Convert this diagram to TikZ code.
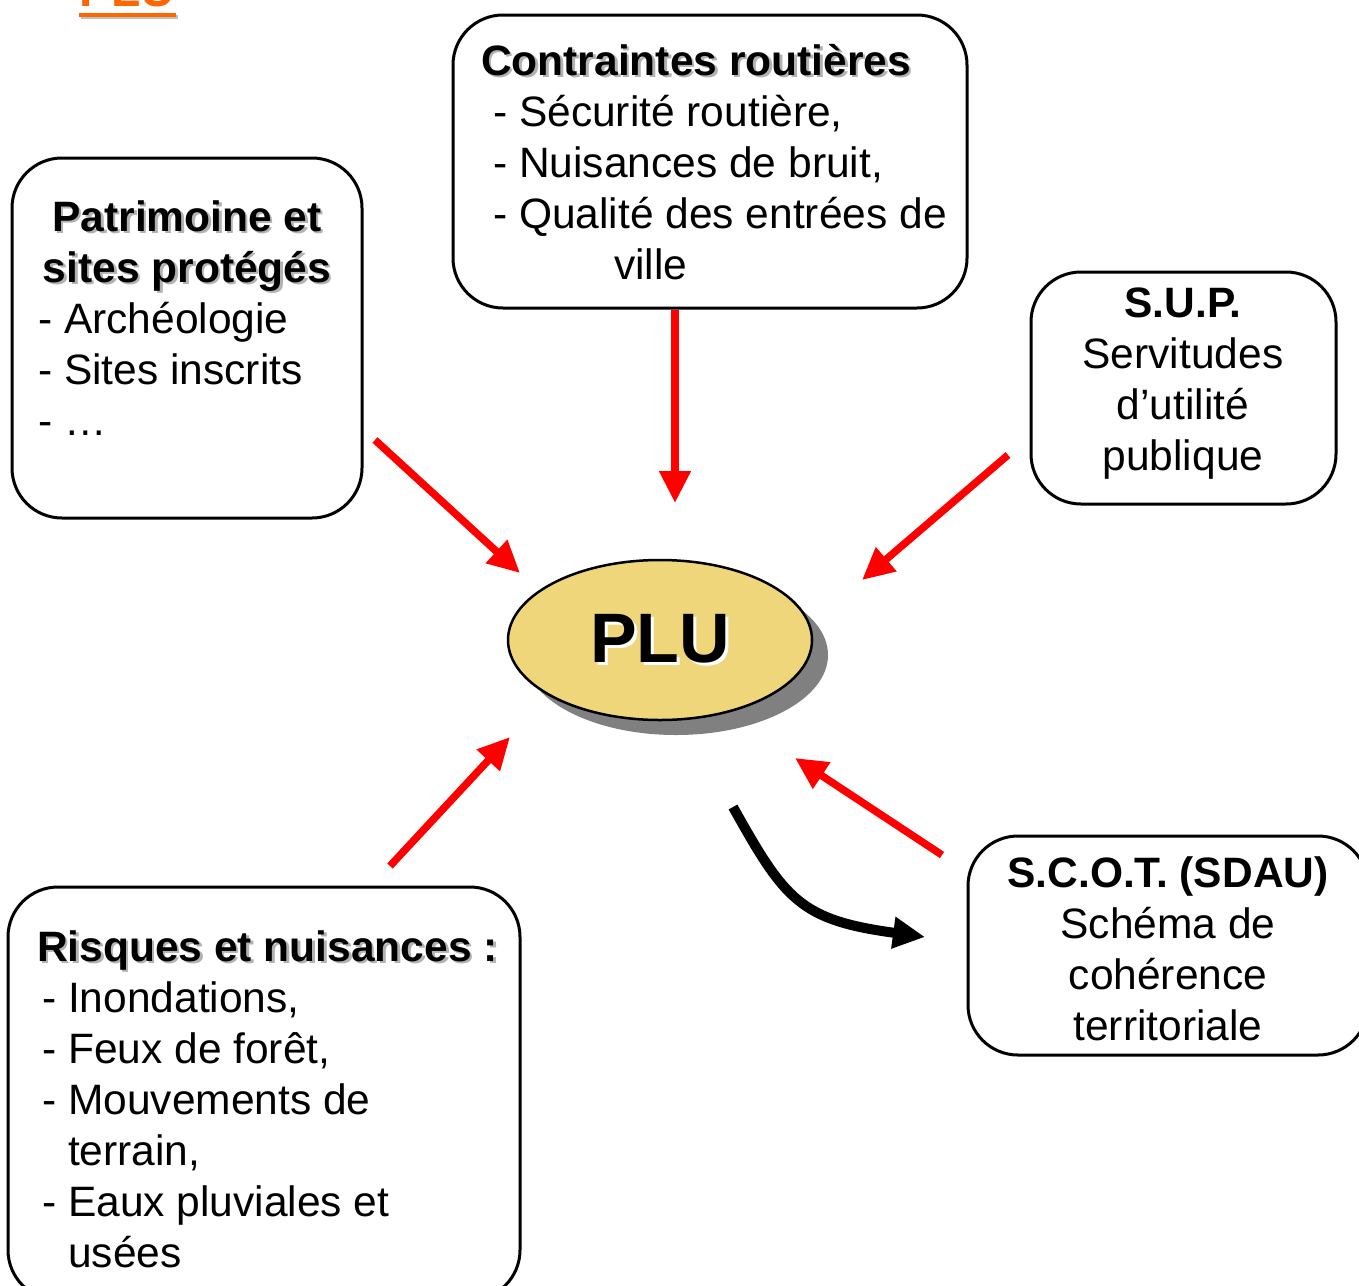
\documentclass[tikz,border=0pt]{standalone}
\usepackage{fontspec}
\setmainfont{Liberation Sans}
\usetikzlibrary{arrows.meta,shapes.geometric,shadows}

\definecolor{plujaune}{RGB}{239,214,122}
\definecolor{pluorange}{RGB}{255,102,0}

% titre avec ombre grise / relief blanc
\newcommand{\ombre}[1]{\makebox[0pt][l]{\hspace{2.5pt}\raisebox{-2.5pt}{\textcolor{black!30}{#1}}}#1}
\newcommand{\relief}[1]{\makebox[0pt][l]{\hspace{3pt}\raisebox{-3pt}{\textcolor{white}{#1}}}#1}

\tikzset{
  cadre/.style={draw, line width=3pt, rounded corners=50pt},
  texte/.style={inner sep=0pt, font=\fontsize{42.5}{51}\selectfont},
  fleche/.style={draw=red, line width=7.5pt, -{Triangle[length=32pt,width=30pt]}},
}

\begin{document}
\begin{tikzpicture}[x=1pt,y=-1pt]
  \useasboundingbox (0,0) rectangle (1359,1285);

  % titre coupe en haut
  \node[anchor=base west, inner sep=0pt, text=pluorange,
        font=\fontsize{48}{58}\selectfont\bfseries] (titre) at (79,6) {PLU};
  \draw[black!25, line width=4pt] (81,17) -- (178,17);
  \draw[pluorange, line width=4pt] (79,15) -- (176,15);

  % cadres
  \node[cadre, minimum width=514pt, minimum height=293pt] (contr) at (710,161.5) {};
  \node[cadre, minimum width=350pt, minimum height=360pt] (patri) at (187,338) {};
  \node[cadre, minimum width=305pt, minimum height=232pt] (sup) at (1183.5,388) {};
  \node[cadre, minimum width=400pt, minimum height=219pt] (scot) at (1168,945.5) {};
  \node[cadre, minimum width=512pt, minimum height=413pt] (risq) at (264,1093.5) {};

  % textes (base = ligne du bas)
  \node[texte, anchor=base west, align=left] (contr-t) at (481,279)
    {\textbf{\ombre{Contraintes routières}}\\
     \hspace*{12pt}- Sécurité routière,\\
     \hspace*{12pt}- Nuisances de bruit,\\
     \hspace*{12pt}- Qualité des entrées de\\
     \hspace*{133pt}ville};
  \node[texte, anchor=base, align=center] (patri-t) at (187,282)
    {\textbf{\ombre{Patrimoine et}}\\\textbf{\ombre{sites protégés}}};
  \node[texte, anchor=base west, align=left] (patri-l) at (38,435)
    {- Archéologie\\- Sites inscrits\\- …};
  \node[texte, anchor=base, align=center] (sup-t) at (1183,470)
    {\textbf{S.U.P.}\\Servitudes\\d’utilité\\publique};
  \node[texte, anchor=base, align=center] (scot-t) at (1168,1040)
    {\textbf{S.C.O.T. (SDAU)}\\Schéma de\\cohérence\\territoriale};
  \node[texte, anchor=base west, align=left] (risq-t) at (37,961)
    {\textbf{\ombre{Risques et nuisances :}}};
  \node[texte, anchor=base west, align=left] (risq-l) at (42,1267)
    {- Inondations,\\- Feux de forêt,\\- Mouvements de\\\phantom{- }terrain,\\
     - Eaux pluviales et\\\phantom{- }usées};

  % PLU
  \node[ellipse, draw, line width=2.5pt, fill=plujaune,
        minimum width=304pt, minimum height=160pt,
        drop shadow={shadow xshift=16pt, shadow yshift=-15pt, fill=gray, opacity=1},
        font=\fontsize{70}{84}\selectfont\bfseries] (plu) at (660,640) {\relief{PLU}};

  % fleches
  \coordinate (patri-d) at (375,440);  \coordinate (patri-a) at (520,573);
  \coordinate (contr-d) at (675,310);  \coordinate (contr-a) at (675,503);
  \coordinate (sup-d)   at (1008,455); \coordinate (sup-a)   at (862,580);
  \coordinate (risq-d)  at (390,866);  \coordinate (risq-a)  at (510,737);
  \coordinate (scot-d)  at (942,855);  \coordinate (scot-a)  at (795,758);
  \coordinate (sortie-d) at (733,807); \coordinate (sortie-a) at (925,937);
  \draw[fleche] (patri-d) -- (patri-a);
  \draw[fleche] (contr-d) -- (contr-a);
  \draw[fleche] (sup-d) -- (sup-a);
  \draw[fleche] (risq-d) -- (risq-a);
  \draw[fleche] (scot-d) -- (scot-a);
  \draw[line width=10pt, -{Triangle[length=32pt,width=30pt]}]
    (sortie-d) .. controls (785,900) and (800,920) .. (sortie-a);
\end{tikzpicture}
\end{document}
